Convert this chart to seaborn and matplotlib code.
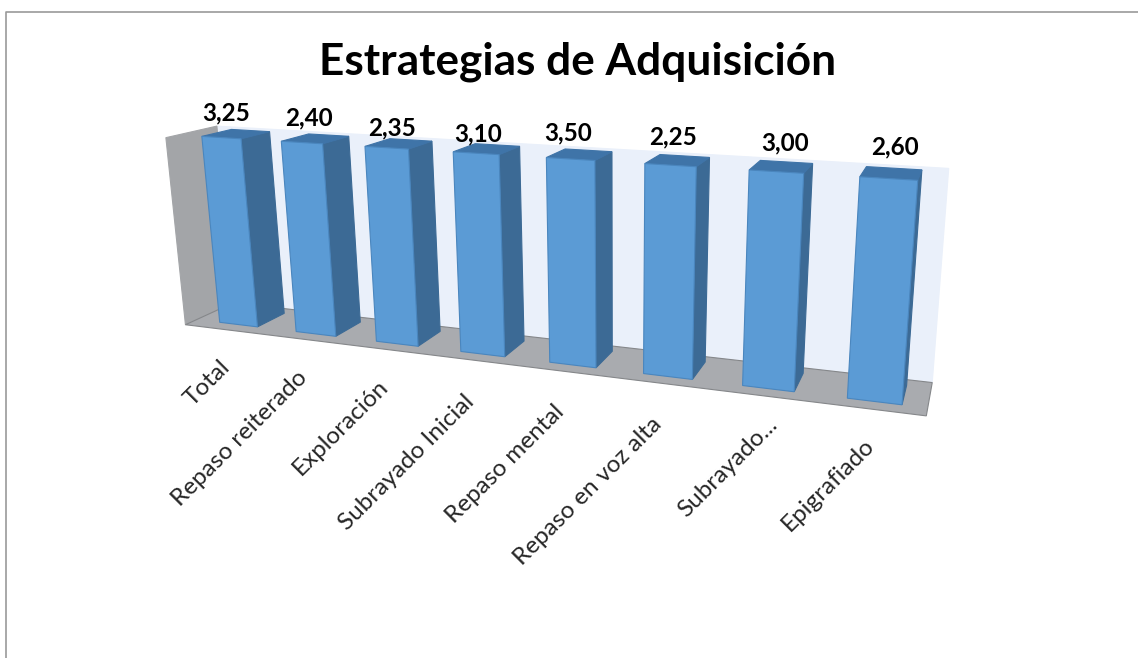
import numpy as np
import seaborn as sns
import matplotlib.pyplot as plt
from matplotlib.lines import Line2D
from matplotlib.patches import Polygon
from matplotlib.transforms import Affine2D, Transform

# datos
categorias = ['Total', 'Repaso reiterado', 'Exploración', 'Subrayado Inicial',
              'Repaso mental', 'Repaso en voz alta', 'Subrayado...', 'Epigrafiado']
valores = [3.25, 2.40, 2.35, 3.10, 3.50, 2.25, 3.00, 2.60]
# las columnas del original salen todas a la misma altura, las etiquetas no son la altura
alturas = [100, 100, 100, 100, 100, 100, 100, 100]

ANCHO = 0.5
FONDO_BARRA = 1.0
Z_FRENTE = -0.38
Z_ATRAS = 1.3

# retoques a mano en pixeles, Excel no coloca las etiquetas de forma regular
ajuste_valor_x = [-1, 2, 1, -2, -6, 0, 6, 5]
ajuste_valor_y = [-6, -6, -1, 0, -6, -8, -8, -11]
ajuste_cat_x = [0, 0, 0, 0, 0, 3, 18, 9]
ajuste_cat_y = [0, 0, -2, 2, 0, 0, -13, -6]

# camara: puntos (x, y, z) de los datos -> pixeles
puntos = [
    (-0.25, 100, 0, 202, 137), (0.25, 100, 0, 242, 140),
    (-0.25, 0, 0, 217, 322), (0.25, 0, 0, 257, 326),
    (6.75, 100, 0, 858, 177), (7.25, 100, 0, 921, 180),
    (6.75, 0, 0, 844, 399), (7.25, 0, 0, 902, 406),
    (0.25, 100, 1, 273, 132), (0.25, 0, 1, 285, 313),
    (7.25, 100, 1, 923, 168), (7.25, 0, 1, 907, 387),
    (-0.25, 100, 1, 228, 130), (6.75, 100, 1, 864, 166),
    (3.25, 100, 0, 498, 154), (3.25, 0, 0, 510, 355),
]
filas = []
destino = []
for x, y, z, u, v in puntos:
    filas.append([x, y, z, 1, 0, 0, 0, 0, -u * x, -u * y, -u * z])
    filas.append([0, 0, 0, 0, x, y, z, 1, -v * x, -v * y, -v * z])
    destino += [u, v]
sol = np.linalg.lstsq(np.array(filas, float), np.array(destino, float), rcond=None)[0]
P = np.append(sol, 1).reshape(3, 4)


def proyecta(x, y, z=0):
    u, v, w = P @ np.array([x, y, z, 1.0])
    return u / w, v / w


class Perspectiva(Transform):
    input_dims = 2
    output_dims = 2
    has_inverse = False

    def transform_non_affine(self, values):
        return np.array([proyecta(x, y) for x, y in values])


sns.set_theme(style='white')
plt.rcParams['font.family'] = ['Lato', 'DejaVu Sans']

fig = plt.figure(figsize=(11.38, 6.58), dpi=100)
ax = fig.add_axes([0, 0, 1, 1])
pixeles = Affine2D().scale(1, -1).translate(0, 658)

sns.barplot(x=categorias, y=alturas, width=ANCHO, color='#5B9BD5', saturation=1, ax=ax)
ax.set_axis_off()
barras = list(ax.patches)

# marco de la imagen: solo arriba y a la izquierda
fig.add_artist(Line2D([6, 6, 1138], [658, 11.5, 11.5], transform=pixeles, color='#9A9A9A', lw=1.2))


def cara(esquinas, color, zorder, ec=None):
    ax.add_patch(Polygon([proyecta(*e) for e in esquinas], closed=True, fc=color,
                         ec=ec or color, lw=0.8, transform=pixeles, zorder=zorder, clip_on=False))


xa, xb = -0.56, 7.48
cara([(xa, 100, Z_ATRAS), (xb, 100, Z_ATRAS), (xb, 0, Z_ATRAS), (xa, 0, Z_ATRAS)], '#EAF0FA', 0.5)
cara([(xa, 100, Z_FRENTE), (xa, 100, Z_ATRAS), (xa, 0, Z_ATRAS), (xa, 0, Z_FRENTE)], '#A3A5A8', 0.6)
cara([(xa, 0, Z_FRENTE), (xb, 0, Z_FRENTE), (xb, 0, Z_ATRAS), (xa, 0, Z_ATRAS)], '#A9ABAF', 0.7, ec='#85878A')

for i, barra in enumerate(barras):
    x0 = barra.get_x()
    x1 = x0 + barra.get_width()
    h = barra.get_height()
    barra.set_transform(Perspectiva() + pixeles)
    barra.set_edgecolor('#4A86BE')
    barra.set_linewidth(0.8)
    barra.set_clip_on(False)
    barra.set_zorder(3 + i)
    cara([(x1, 0, 0), (x1, 0, FONDO_BARRA), (x1, h, FONDO_BARRA), (x1, h, 0)], '#3C6A95', 2.9 + i)
    cara([(x0, h, 0), (x1, h, 0), (x1, h, FONDO_BARRA), (x0, h, FONDO_BARRA)], '#3F74A8', 2.9 + i)

    xt, yt = proyecta(i, h + 3, 0.2)
    ax.text(xt + ajuste_valor_x[i], yt + ajuste_valor_y[i], f'{valores[i]:.2f}'.replace('.', ','),
            transform=pixeles, ha='center', va='bottom',
            fontsize=17.5, fontweight='bold', color='black', zorder=20)
    xt, yt = proyecta(i - 0.14, -15.5, -0.4)
    ax.text(xt + ajuste_cat_x[i], yt + ajuste_cat_y[i], categorias[i], transform=pixeles,
            ha='right', va='top', rotation=45,
            rotation_mode='anchor', fontsize=17.5, color='#262626', zorder=20)

fig.text(578 / 1138, 1 - 62 / 658, 'Estrategias de Adquisición', ha='center', va='center',
         fontsize=31.8, fontweight='bold', color='black')

plt.savefig('out.png', dpi=100)
